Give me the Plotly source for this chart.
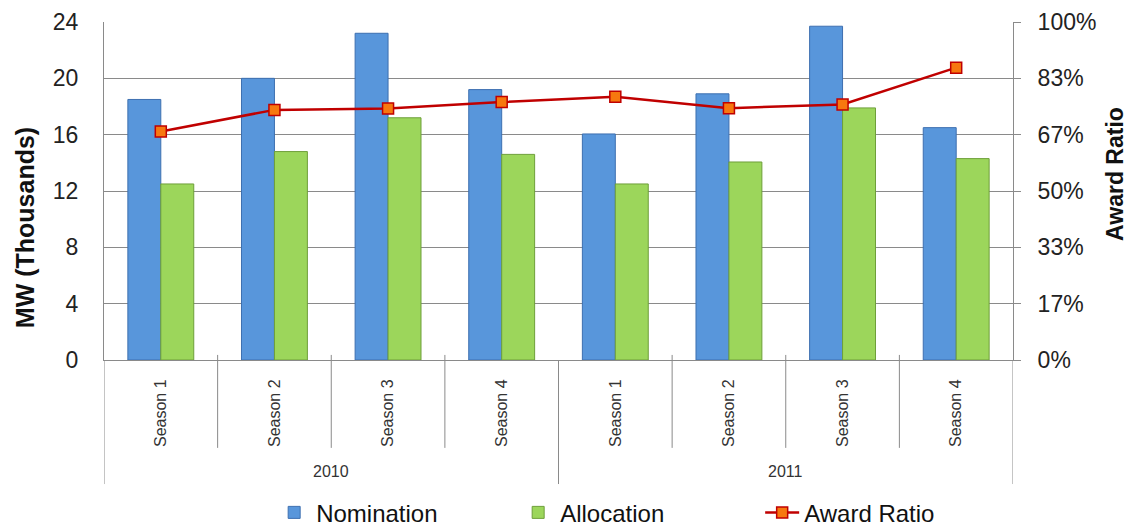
import plotly.graph_objects as go

# Data
years = ["2010", "2011"]
seasons = ["Season 1", "Season 2", "Season 3", "Season 4",
           "Season 1", "Season 2", "Season 3", "Season 4"]
nomination = [18.5, 20.0, 23.2, 19.2, 16.05, 18.9, 23.7, 16.5]      # MW, thousands
allocation = [12.5, 14.8, 17.2, 14.6, 12.5, 14.06, 17.9, 14.3]      # MW, thousands
award_ratio = [0.676, 0.740, 0.744, 0.763, 0.779, 0.745, 0.756, 0.865]
ratio_ticks = [0, 1/6, 2/6, 3/6, 4/6, 5/6, 1]
ratio_tick_text = ["0%", "17%", "33%", "50%", "67%", "83%", "100%"]

FONT = "Liberation Sans, Arial, sans-serif"
GRID = "#8a8a8a"
xpos = list(range(len(seasons)))

fig = go.Figure()
fig.add_trace(go.Bar(
    x=xpos, y=nomination, name="Nomination",
    marker=dict(color="#5896DB", line=dict(color="#3D6FB0", width=1)),
))
fig.add_trace(go.Bar(
    x=xpos, y=allocation, name="Allocation",
    marker=dict(color="#9CD65B", line=dict(color="#6E9F3A", width=1)),
))
fig.add_trace(go.Scatter(
    x=xpos, y=award_ratio, name="Award Ratio", yaxis="y2",
    mode="lines+markers",
    line=dict(color="#C00000", width=2.5),
    marker=dict(symbol="square", size=11, color="#F7780F",
                line=dict(color="#C00000", width=1.5)),
))

# two-level category dividers below the plot area
shapes = []
for b in [0.5, 1.5, 2.5, 4.5, 5.5, 6.5]:
    shapes.append(dict(type="line", xref="x", yref="paper", x0=b, x1=b,
                       y0=0.015, y1=-0.26, line=dict(color=GRID, width=1)))
for b in [-0.5, 3.5, 7.5]:
    shapes.append(dict(type="line", xref="x", yref="paper", x0=b, x1=b,
                       y0=0, y1=-0.367, line=dict(color=GRID, width=1)))

annotations = []
for i, yr in enumerate(years):
    annotations.append(dict(text=yr, x=1.5 + 4 * i, xref="x", y=-0.331, yref="paper",
                            showarrow=False, xanchor="center", yanchor="middle",
                            font=dict(family=FONT, size=16, color="#333333")))
annotations.append(dict(text="<b>MW (Thousands)</b>", x=-0.0869, xref="paper",
                        y=0.39, yref="paper", textangle=-90, showarrow=False,
                        xanchor="center", yanchor="middle",
                        font=dict(family=FONT, size=25, color="#111111")))
annotations.append(dict(text="<b>Award Ratio</b>", x=1.112, xref="paper",
                        y=0.55, yref="paper", textangle=-90, showarrow=False,
                        xanchor="center", yanchor="middle",
                        font=dict(family=FONT, size=23, color="#111111")))

fig.update_layout(
    width=1130, height=531,
    margin=dict(l=104, r=117, t=22, b=171, autoexpand=False),
    paper_bgcolor="white", plot_bgcolor="white",
    barmode="group", bargap=0.42, bargroupgap=0,
    font=dict(family=FONT, color="#222222"),
    xaxis=dict(range=[-0.5, 7.5], tickvals=xpos, ticktext=seasons,
               tickangle=-90, ticks="", ticklabelstandoff=12,
               tickfont=dict(family=FONT, size=16, color="#333333"),
               showgrid=False, showline=True, linecolor=GRID, linewidth=1,
               zeroline=False, mirror=False),
    yaxis=dict(range=[0, 24], dtick=4, showgrid=True, gridcolor=GRID, gridwidth=1,
               showline=True, linecolor=GRID, linewidth=1, zeroline=False,
               ticks="", ticklabelstandoff=20,
               tickfont=dict(family=FONT, size=23, color="#222222")),
    yaxis2=dict(range=[0, 1], overlaying="y", side="right",
                tickvals=ratio_ticks, ticktext=ratio_tick_text,
                showgrid=False, showline=True, linecolor=GRID, linewidth=1,
                zeroline=False, ticks="outside", ticklen=7, tickcolor=GRID,
                ticklabelstandoff=12,
                tickfont=dict(family=FONT, size=23, color="#222222")),
    legend=dict(orientation="h", x=0.185, xanchor="left", y=-0.452, yanchor="middle",
                font=dict(family=FONT, size=24, color="#111111"),
                entrywidth=195, entrywidthmode="pixels", itemwidth=34,
                bgcolor="rgba(0,0,0,0)"),
    shapes=shapes, annotations=annotations,
    showlegend=True,
)

fig.write_html("out.html")
